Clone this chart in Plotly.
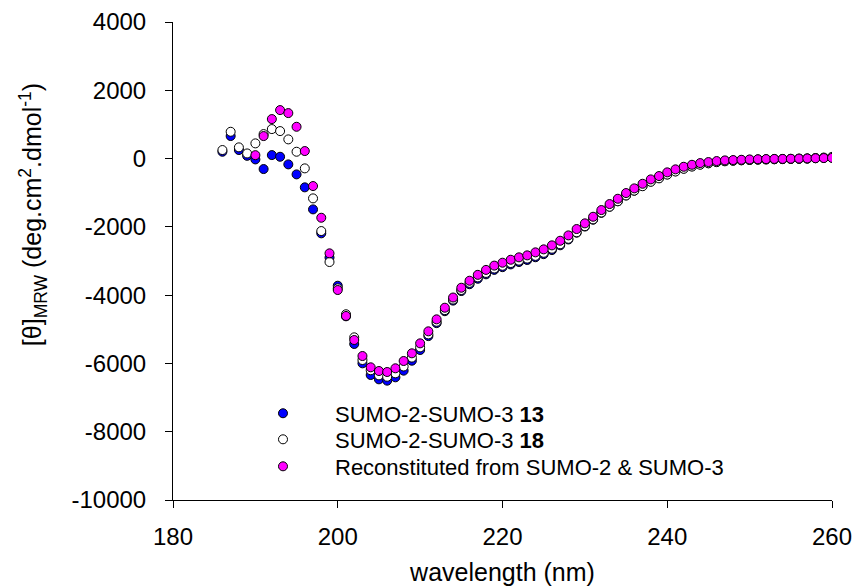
import plotly.graph_objects as go

wl_a = list(range(186, 261))
sumo13 = [200, 660, 250, 80, -25, -307, 102, 53, -170, -463, -843, -1488, -2190, -2900,
          -3724, -4620, -5431, -5997, -6339, -6466, -6505, -6407, -6212, -5920, -5607,
          -5200, -4820, -4470, -4160, -3880, -3680, -3520, -3390, -3260, -3180, -3100,
          -3030, -2970, -2890, -2800, -2680, -2540, -2370, -2170, -1990, -1790, -1590,
          -1410, -1250, -1080, -940, -800, -670, -570, -460, -370, -290, -225, -170,
          -135, -100, -75, -60, -50, -40, -30, -25, -20, -15, -10, -5, 0, 10, 20, 30]
sumo18 = [250, 785, 328, 150, 445, 717, 864, 805, 562, 200, -287, -1166, -2123, -3030,
          -3800, -4560, -5236, -5900, -6200, -6350, -6390, -6290, -6090, -5830, -5530,
          -5150, -4780, -4440, -4130, -3850, -3640, -3480, -3350, -3220, -3140, -3060,
          -2990, -2930, -2850, -2760, -2640, -2510, -2350, -2160, -1980, -1780, -1580,
          -1410, -1250, -1080, -940, -810, -680, -580, -470, -380, -300, -235, -180,
          -140, -105, -80, -65, -50, -40, -30, -25, -20, -15, -10, -5, 0, 15, 30, 50]
wl_b = list(range(190, 261))
recon = [100, 659, 1157, 1420, 1332, 931, 220, -805, -1733, -2776, -3850, -4610, -5314,
         -5783, -6114, -6222, -6251, -6143, -5929, -5704, -5412, -5060, -4709, -4368,
         -4070, -3783, -3578, -3405, -3260, -3135, -3050, -2963, -2893, -2835, -2747,
         -2659, -2542, -2407, -2250, -2064, -1898, -1704, -1508, -1332, -1177, -1010,
         -873, -738, -610, -512, -404, -316, -240, -182, -132, -102, -73, -53, -44, -35,
         -25, -20, -15, -10, -10, -5, 0, 5, 10, 15, 20]

names = ["SUMO-2-SUMO-3 <b>13</b>", "SUMO-2-SUMO-3 <b>18</b>",
         "Reconstituted from SUMO-2 &amp; SUMO-3"]
colors = ["#0000ff", "#ffffff", "#ff00ff"]

x_ticks = [180, 200, 220, 240, 260]
y_ticks = [-10000, -8000, -6000, -4000, -2000, 0, 2000, 4000]
y_labels = ["-10000", "-8000", "-6000", "-4000", "-2000", "0", "2000", "4000"]

FONT = "Liberation Sans, Arial, sans-serif"

fig = go.Figure()
legend_ids = ["legend", "legend2", "legend3"]
for xs, ys, nm, c, lg in [(wl_a, sumo13, names[0], colors[0], legend_ids[0]),
                          (wl_a, sumo18, names[1], colors[1], legend_ids[1]),
                          (wl_b, recon, names[2], colors[2], legend_ids[2])]:
    fig.add_trace(go.Scatter(x=xs, y=ys, mode="markers", name=nm, legend=lg,
                             marker=dict(size=9, color=c, line=dict(color="black", width=1))))

leg_common = dict(x=0.088, xanchor="left", yanchor="top", bgcolor="rgba(0,0,0,0)",
                  font=dict(size=22, family=FONT), itemwidth=94)

fig.update_layout(
    width=855, height=586,
    margin=dict(l=173, r=23, t=22, b=86, autoexpand=False),
    paper_bgcolor="white", plot_bgcolor="white",
    font=dict(family=FONT, size=25, color="black"),
    showlegend=True,
    legend=dict(y=0.225, **leg_common),
    legend2=dict(y=0.1705, **leg_common),
    legend3=dict(y=0.114, **leg_common),
    xaxis=dict(range=[180, 260], tickvals=x_ticks, showline=True, linecolor="black",
               linewidth=1, ticks="outside", ticklen=7, tickcolor="black",
               showgrid=False, zeroline=False, tickfont=dict(size=24),
               ticklabelstandoff=8, ticklabeloverflow="allow", automargin=False,
               title=dict(text="wavelength (nm)", font=dict(size=25), standoff=16)),
    yaxis=dict(range=[-10000, 4000], tickvals=y_ticks, ticktext=y_labels,
               showline=True, linecolor="black",
               linewidth=1, ticks="outside", ticklen=7, tickcolor="black",
               showgrid=False, zeroline=False, tickfont=dict(size=24),
               ticklabelstandoff=14, ticklabeloverflow="allow", automargin=False),
    annotations=[dict(text="[θ]<sub>MRW</sub> (deg.cm<sup>2</sup>.dmol<sup>-1</sup>)",
                      xref="paper", yref="paper", x=-0.2124, y=0.596,
                      xanchor="center", yanchor="middle", textangle=-90,
                      showarrow=False, font=dict(size=25, family=FONT))],
)
fig.write_html("out.html", config={"displayModeBar": False},
               post_script="document.body.style.margin='0';"
                           "document.documentElement.style.overflow='hidden';"
                           "document.body.style.overflow='hidden';")
